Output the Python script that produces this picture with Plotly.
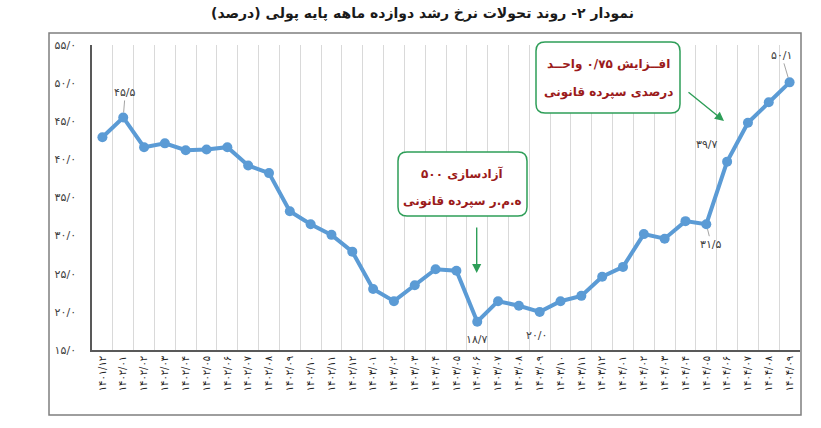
import plotly.graph_objects as go

# ---------------- data ----------------
months = [
    "۱۴۰۱/۱۲",
    "۱۴۰۲/۰۱", "۱۴۰۲/۰۲", "۱۴۰۲/۰۳", "۱۴۰۲/۰۴", "۱۴۰۲/۰۵", "۱۴۰۲/۰۶",
    "۱۴۰۲/۰۷", "۱۴۰۲/۰۸", "۱۴۰۲/۰۹", "۱۴۰۲/۱۰", "۱۴۰۲/۱۱", "۱۴۰۲/۱۲",
    "۱۴۰۳/۰۱", "۱۴۰۳/۰۲", "۱۴۰۳/۰۳", "۱۴۰۳/۰۴", "۱۴۰۳/۰۵", "۱۴۰۳/۰۶",
    "۱۴۰۳/۰۷", "۱۴۰۳/۰۸", "۱۴۰۳/۰۹", "۱۴۰۳/۱۰", "۱۴۰۳/۱۱", "۱۴۰۳/۱۲",
    "۱۴۰۴/۰۱", "۱۴۰۴/۰۲", "۱۴۰۴/۰۳", "۱۴۰۴/۰۴", "۱۴۰۴/۰۵", "۱۴۰۴/۰۶",
    "۱۴۰۴/۰۷", "۱۴۰۴/۰۸", "۱۴۰۴/۰۹",
]
growth = [
    42.9, 45.5, 41.6, 42.1, 41.2, 41.3, 41.6, 39.2, 38.2, 33.2, 31.5, 30.1, 27.9,
    23.0, 21.4, 23.5, 25.6, 25.4, 18.7, 21.4, 20.8, 20.0, 21.4, 22.1, 24.6,
    25.9, 30.2, 29.6, 31.9, 31.5, 39.7, 44.8, 47.5, 50.1,
]
y_ticks = [15, 20, 25, 30, 35, 40, 45, 50, 55]
labelled_points = [1, 18, 21, 29, 30, 33]

title_text = "نمودار ۲- روند تحولات نرخ رشد دوازده ماهه پایه پولی (درصد)"
note1 = ["آزادسازی ۵۰۰", "ه.م.ر سپرده قانونی"]
note2 = ["افــزایش ۰/۷۵ واحــد", "درصدی سپرده قانونی"]


def fa(s):
    return s.translate(str.maketrans("0123456789.", "۰۱۲۳۴۵۶۷۸۹/"))


# ---------------- layout geometry ----------------
W, H = 821, 428
ML, MR, MT, MB = 92, 21, 45, 78
PW, PH = W - ML - MR, H - MT - MB


def pp(x, y):
    return (x - ML) / PW, (H - MB - y) / PH


def rounded(x0, y0, x1, y1, r):
    def P(x, y):
        a, b = pp(x, y)
        return f"{a:.5f},{b:.5f}"
    return (f"M{P(x0 + r, y0)} L{P(x1 - r, y0)} Q{P(x1, y0)} {P(x1, y0 + r)} "
            f"L{P(x1, y1 - r)} Q{P(x1, y1)} {P(x1 - r, y1)} "
            f"L{P(x0 + r, y1)} Q{P(x0, y1)} {P(x0, y1 - r)} "
            f"L{P(x0, y0 + r)} Q{P(x0, y0)} {P(x0 + r, y0)} Z")


FONT = "DejaVu Sans"
BLUE = "#5B9BD5"
GREEN = "#2E9E58"
RED = "#9B1B1B"
GREY = "#404040"

fig = go.Figure()
fig.add_trace(go.Scatter(
    x=months, y=growth, mode="lines+markers",
    line=dict(color=BLUE, width=4),
    marker=dict(color=BLUE, size=10),
    hoverinfo="skip",
))

# value labels (positions relative to the points, in pixels)
label_offsets = {1: (2, -25, True), 18: (0, 18, False), 21: (-3, 24, False),
                 29: (5, 20, True), 30: (-20, -17, False), 33: (-8, -27, True)}
for i in labelled_points:
    dx, dy, leader = label_offsets[i]
    txt = fa(f"{growth[i]:.1f}")
    if leader:
        fig.add_annotation(x=months[i], y=growth[i], text=txt, showarrow=True,
                           ax=dx, ay=dy, arrowhead=0, arrowwidth=0.8,
                           arrowcolor="#8C8C8C", standoff=5,
                           font=dict(family=FONT, size=11, color=GREY))
    else:
        fig.add_annotation(x=months[i], y=growth[i], text=txt, showarrow=False,
                           xshift=dx, yshift=-dy, xanchor="center", yanchor="middle",
                           font=dict(family=FONT, size=11, color=GREY))

# outer frame
fx0, fy0 = pp(49, 415)
fx1, fy1 = pp(801, 33)
shapes = [dict(type="rect", xref="paper", yref="paper", x0=fx0, y0=fy0, x1=fx1, y1=fy1,
               line=dict(color="#7F7F7F", width=1.5), layer="below")]

# note boxes
shapes.append(dict(type="path", xref="paper", yref="paper",
                   path=rounded(398, 152, 527, 216, 9),
                   line=dict(color=GREEN, width=1.5), fillcolor="white"))
shapes.append(dict(type="path", xref="paper", yref="paper",
                   path=rounded(536, 42, 680, 113, 9),
                   line=dict(color=GREEN, width=1.5), fillcolor="white"))

for (cx, cy), txt in [((462, 173), note1[0]), ((462, 201), note1[1]),
                      ((608, 65), note2[0]), ((608, 92), note2[1])]:
    ax_, ay_ = pp(cx, cy)
    fig.add_annotation(xref="paper", yref="paper", x=ax_, y=ay_, text=f"<b>{txt}</b>",
                       showarrow=False, xanchor="center", yanchor="middle",
                       font=dict(family=FONT, size=12, color=RED))

# arrows
for (tx, ty), (sx, sy) in [((476.7, 273), (476.7, 226)), ((724, 121), (687, 91))]:
    a, b = pp(tx, ty)
    fig.add_annotation(xref="paper", yref="paper", x=a, y=b, text="", showarrow=True,
                       ax=sx - tx, ay=sy - ty, arrowhead=2, arrowsize=1.3,
                       arrowwidth=1.4, arrowcolor=GREEN)

# title
tx, ty = pp(422, 14)
fig.add_annotation(xref="paper", yref="paper", x=tx, y=ty, text=f"<b>{title_text}</b>",
                   showarrow=False, xanchor="center", yanchor="middle",
                   font=dict(family=FONT, size=14, color="#1a1a1a"))

fig.update_layout(
    width=W, height=H,
    margin=dict(l=ML, r=MR, t=MT, b=MB, pad=0),
    paper_bgcolor="white", plot_bgcolor="white",
    showlegend=False,
    shapes=shapes,
    xaxis=dict(
        type="category", tickson="boundaries", showgrid=True,
        gridcolor="#D9D9D9", gridwidth=1,
        showline=True, linecolor="#595959", linewidth=1.5,
        ticks="", tickangle=-90,
        tickfont=dict(family=FONT, size=10, color="#222222"),
        automargin=False, range=[-0.5, len(months) - 0.5],
    ),
    yaxis=dict(
        range=[15, 55], tickvals=y_ticks, ticktext=[fa(f"{v:.1f}") for v in y_ticks],
        showgrid=False, zeroline=False,
        showline=True, linecolor="#595959", linewidth=1.5,
        ticks="", ticklabelstandoff=12,
        tickfont=dict(family=FONT, size=11, color=GREY),
        automargin=False,
    ),
)

fig.write_html("out.html", config={"displayModeBar": False},
               post_script="document.body.style.margin='0';")
